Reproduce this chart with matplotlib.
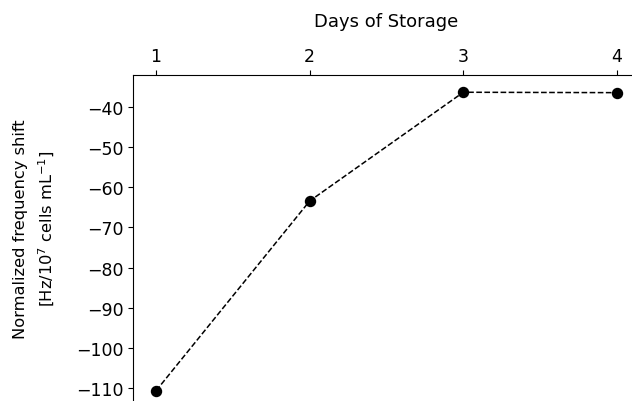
import matplotlib
matplotlib.use("Agg")
import matplotlib.pyplot as plt

days = [1, 2, 3, 4]
shift = [-110.7, -63.4, -36.3, -36.4]
xticks = [1, 2, 3, 4]
yticks = [-110, -100, -90, -80, -70, -60, -50, -40]

W, H = 632, 402
fig = plt.figure(figsize=(W/100, H/100), dpi=100)
left, right, top, bottom = 133, 640, 76, 407
ax = fig.add_axes([left/W, 1 - bottom/H, (right-left)/W, (bottom-top)/H])
ax.plot(days, shift, linestyle='--', color='black', marker='o', markersize=7.2, linewidth=1.1)
ax.set_xlim(0.85, 4.15)
ax.set_ylim(-114.5, -32.0)
ax.set_xticks(xticks)
ax.set_yticks(yticks)
ax.xaxis.tick_top()
ax.xaxis.set_label_position('top')
ax.set_xlabel('Days of Storage', fontsize=13, labelpad=15)
ax.set_ylabel('Normalized frequency shift\n[Hz/10$^7$ cells mL$^{-1}$]', fontsize=11.7,
              va='center', ha='center', multialignment='center', linespacing=1.55)
ax.yaxis.set_label_coords(35/W, 1 - 229/H, transform=fig.transFigure)
ax.tick_params(labelsize=12.5)
fig.savefig('out.png', dpi=100)
